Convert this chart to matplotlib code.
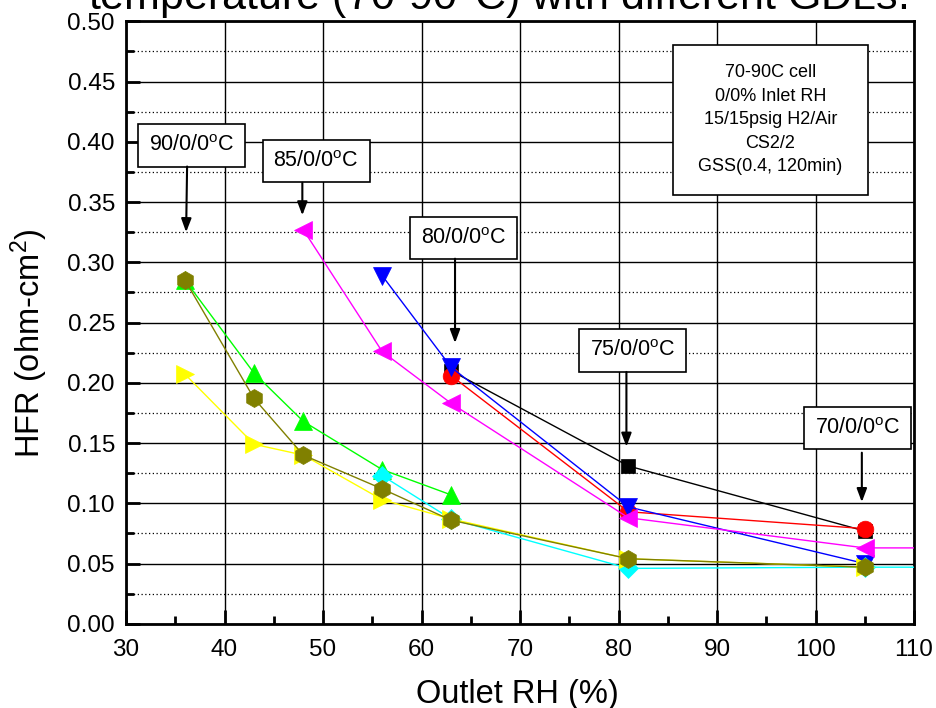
import matplotlib
matplotlib.use("Agg")
import matplotlib.pyplot as plt
from matplotlib.ticker import MultipleLocator
from matplotlib.patches import Rectangle

plt.rcParams['font.family'] = ['Liberation Sans', 'DejaVu Sans']
plt.rcParams['mathtext.fontset'] = 'custom'
plt.rcParams['mathtext.rm'] = 'Liberation Sans'
plt.rcParams['mathtext.it'] = 'Liberation Sans:italic'
plt.rcParams['mathtext.bf'] = 'Liberation Sans:bold'

# ---- data (Outlet RH %, HFR ohm-cm^2) ----
x_black = [63, 81, 105]
y_black = [0.210, 0.131, 0.077]

x_red = [63, 81, 105]
y_red = [0.206, 0.093, 0.079]

x_green = [36, 43, 48, 56, 63]
y_green = [0.285, 0.208, 0.168, 0.128, 0.107]

x_blue = [56, 63, 81, 105]
y_blue = [0.289, 0.213, 0.097, 0.050]

x_cyan = [56, 63, 81, 105, 120]
y_cyan = [0.123, 0.087, 0.046, 0.047, 0.047]

x_magenta = [48, 56, 63, 81, 105, 120]
y_magenta = [0.327, 0.226, 0.183, 0.088, 0.063, 0.063]

x_yellow = [36, 43, 48, 56, 63, 81, 105]
y_yellow = [0.207, 0.149, 0.140, 0.103, 0.087, 0.054, 0.047]

x_olive = [36, 43, 48, 56, 63, 81, 105]
y_olive = [0.285, 0.187, 0.140, 0.112, 0.086, 0.054, 0.047]

labels = ["90/0/0$^\\mathrm{o}$C", "85/0/0$^\\mathrm{o}$C", "80/0/0$^\\mathrm{o}$C",
          "75/0/0$^\\mathrm{o}$C", "70/0/0$^\\mathrm{o}$C"]
info_lines = ["70-90C cell", "0/0% Inlet RH", "15/15psig H2/Air", "CS2/2", "GSS(0.4, 120min)"]
title = "temperature (70-90$^\\mathrm{o}$C) with different GDLs."

# ---- figure ----
fig = plt.figure(figsize=(9.37, 7.08), dpi=100)
ax = fig.add_axes([0.1345, 0.1189, 0.841, 0.851])

series = [
    (x_black, y_black, 'black', 's', 10),
    (x_red, y_red, 'red', 'o', 12),
    (x_green, y_green, '#00ff00', '^', 13),
    (x_blue, y_blue, 'blue', 'v', 13),
    (x_cyan, y_cyan, 'cyan', 'D', 10),
    (x_magenta, y_magenta, 'magenta', '<', 13),
    (x_yellow, y_yellow, 'yellow', '>', 13),
    (x_olive, y_olive, '#808000', 'h', 13),
]
for i, (xs, ys, c, m, ms) in enumerate(series):
    ax.plot(xs, ys, color=c, lw=1.0, marker=m, markersize=ms,
            markerfacecolor=c, markeredgecolor=c, markeredgewidth=0.5,
            zorder=3 + i * 0.1)

ax.set_xlim(30, 110)
ax.set_ylim(0, 0.5)
ax.xaxis.set_major_locator(MultipleLocator(10))
ax.xaxis.set_minor_locator(MultipleLocator(5))
ax.yaxis.set_major_locator(MultipleLocator(0.05))
ax.yaxis.set_minor_locator(MultipleLocator(0.025))
ax.yaxis.set_major_formatter(plt.FuncFormatter(lambda v, p: f"{v:.2f}"))

ax.grid(True, which='major', axis='both', color='black', lw=1.0, ls='-', zorder=1)
ax.grid(True, which='minor', axis='y', color='black', lw=0.9, ls=(0, (1, 2)), zorder=1)
ax.set_axisbelow(True)

for s in ax.spines.values():
    s.set_linewidth(2.0)
ax.tick_params(which='major', direction='in', length=10, width=2, labelsize=17.5,
               top=False, right=False)
ax.tick_params(which='minor', direction='in', length=6, width=2,
               top=False, right=False)
ax.tick_params(axis='x', which='major', pad=11)
ax.tick_params(axis='y', which='major', pad=8)

ax.set_xlabel("Outlet RH (%)", fontsize=23.5)
ax.xaxis.set_label_coords(0.497, -0.131)
ax.xaxis.label.set_va('baseline')
ax.set_ylabel("HFR (ohm-cm$^2$)", fontsize=23.5)
ax.yaxis.set_label_coords(-0.096, 0.466)

# annotation boxes with arrows
box_xy = [(36.65, 0.397), (49.3, 0.384), (64.3, 0.320), (81.4, 0.227), (104.3, 0.1625)]
arr_start = [(36.2, 0.3795), (47.9, 0.366), (63.4, 0.303), (80.8, 0.2090), (104.7, 0.142)]
arr_tip = [(36.1, 0.325), (47.9, 0.339), (63.4, 0.233), (80.8, 0.147), (104.7, 0.101)]
for lab, bxy, st, tp in zip(labels, box_xy, arr_start, arr_tip):
    ax.text(bxy[0], bxy[1], lab, fontsize=15.5, ha='center', va='center', zorder=6,
            bbox=dict(boxstyle='square,pad=0.5', fc='white', ec='black', lw=1.2))
    ax.annotate('', xy=tp, xytext=st, zorder=6,
                arrowprops=dict(arrowstyle='-|>,head_length=0.8,head_width=0.3',
                                color='black', lw=1.5, shrinkA=0, shrinkB=0))

# info box
ax.add_patch(Rectangle((85.53, 0.3559), 19.8, 0.1244, fc='white', ec='black',
                       lw=1.2, zorder=6))
ax.text(95.4, 0.4185, "\n".join(info_lines), fontsize=13, ha='center', va='center',
        linespacing=1.5, zorder=7)

fig.text(0.5315, 0.986, title, fontsize=31, ha='center', va='baseline')

fig.savefig("out.png", dpi=100)
